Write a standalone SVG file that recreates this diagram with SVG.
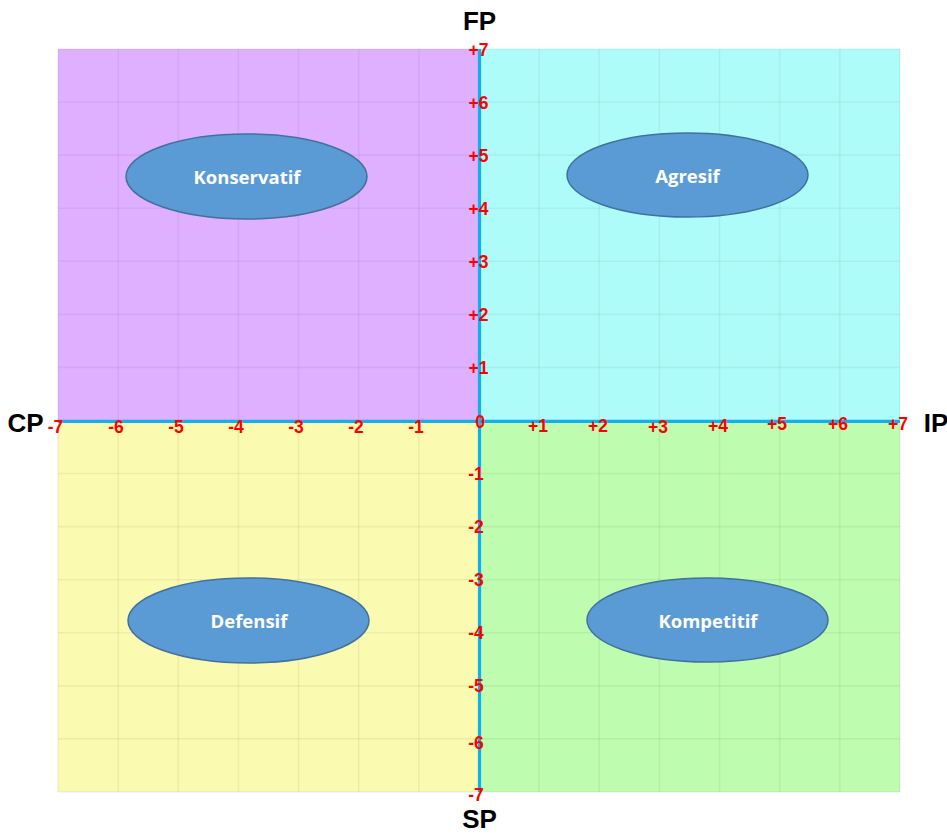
<svg xmlns="http://www.w3.org/2000/svg" width="947" height="835" viewBox="0 0 947 835">
<style>
.grid{stroke:#000;stroke-opacity:0.05;stroke-width:1.6;fill:none}
.axis{stroke:#10B0EE;stroke-width:3.2;fill:none}
.tick{font-family:"Liberation Sans",Arial,sans-serif;font-weight:bold;font-size:17.5px;fill:#FF0000;text-anchor:middle}
.ax{font-family:"Liberation Sans",Arial,sans-serif;font-weight:bold;font-size:26px;fill:#000;text-anchor:middle}
.node ellipse{fill:#5B9BD5;stroke:#41719C;stroke-width:1.5}
.node text{font-family:"Open Sans","Liberation Sans",sans-serif;font-weight:bold;font-size:18.5px;fill:#FFFFFF;text-anchor:middle}
</style>
<rect width="947" height="835" fill="#FFFFFF"/>
<g id="quadrants">
<rect x="58" y="49" width="421" height="371.5" fill="#DFB0FF"/>
<rect x="479" y="49" width="421" height="371.5" fill="#AEFCF9"/>
<rect x="58" y="420.5" width="421" height="371.5" fill="#FAFAB0"/>
<rect x="479" y="420.5" width="421" height="371.5" fill="#BEFCAF"/>
</g>
<g id="grid" class="grid">
<path d="M58 49V792M118.14 49V792M178.28 49V792M238.42 49V792M298.56 49V792M358.7 49V792M418.84 49V792M539.12 49V792M599.26 49V792M659.4 49V792M719.54 49V792M779.68 49V792M839.82 49V792M899.96 49V792"/>
<path d="M58 49H900M58 102.07H900M58 155.14H900M58 208.21H900M58 261.28H900M58 314.35H900M58 367.42H900M58 473.57H900M58 526.64H900M58 579.71H900M58 632.78H900M58 685.85H900M58 738.92H900M58 792H900"/>
</g>
<g id="connectors">
<line class="axis" x1="479.5" y1="49" x2="479.5" y2="792"/>
<line class="axis" x1="58" y1="421.3" x2="900" y2="421.3"/>
</g>
<g id="ticks">
<text class="tick" x="478.5" y="56">+7</text>
<text class="tick" x="478.5" y="109">+6</text>
<text class="tick" x="478.5" y="162">+5</text>
<text class="tick" x="478.5" y="215">+4</text>
<text class="tick" x="478.5" y="268">+3</text>
<text class="tick" x="478.5" y="321">+2</text>
<text class="tick" x="478.5" y="374">+1</text>
<text class="tick" x="480" y="428">0</text>
<text class="tick" x="476" y="479.5">-1</text>
<text class="tick" x="476" y="532.5">-2</text>
<text class="tick" x="476" y="585.5">-3</text>
<text class="tick" x="476" y="638.5">-4</text>
<text class="tick" x="476" y="691.5">-5</text>
<text class="tick" x="476" y="749">-6</text>
<text class="tick" x="476" y="800.5">-7</text>
<text class="tick" x="55.5" y="433">-7</text>
<text class="tick" x="116" y="433">-6</text>
<text class="tick" x="176" y="433">-5</text>
<text class="tick" x="236" y="433">-4</text>
<text class="tick" x="296" y="433">-3</text>
<text class="tick" x="356" y="433">-2</text>
<text class="tick" x="416" y="433">-1</text>
<text class="tick" x="538" y="432">+1</text>
<text class="tick" x="598" y="432">+2</text>
<text class="tick" x="658" y="433">+3</text>
<text class="tick" x="718" y="431.5">+4</text>
<text class="tick" x="777" y="430">+5</text>
<text class="tick" x="838" y="430">+6</text>
<text class="tick" x="898" y="430">+7</text>
</g>
<g id="axis-labels">
<text class="ax" x="479.5" y="30">FP</text>
<text class="ax" x="479.5" y="828">SP</text>
<text class="ax" x="25.5" y="432">CP</text>
<text class="ax" x="936" y="432">IP</text>
</g>
<g id="konservatif" class="node">
<ellipse cx="246.5" cy="176.5" rx="120.5" ry="42.5"/>
<text x="247" y="183.5">Konservatif</text>
</g>
<g id="agresif" class="node">
<ellipse cx="687.5" cy="175" rx="120.5" ry="42"/>
<text x="687.5" y="182.5">Agresif</text>
</g>
<g id="defensif" class="node">
<ellipse cx="248.5" cy="620.5" rx="120.5" ry="42.5"/>
<text x="249" y="627.5">Defensif</text>
</g>
<g id="kompetitif" class="node">
<ellipse cx="707.5" cy="620" rx="120.5" ry="42"/>
<text x="708" y="627.5">Kompetitif</text>
</g>
</svg>
